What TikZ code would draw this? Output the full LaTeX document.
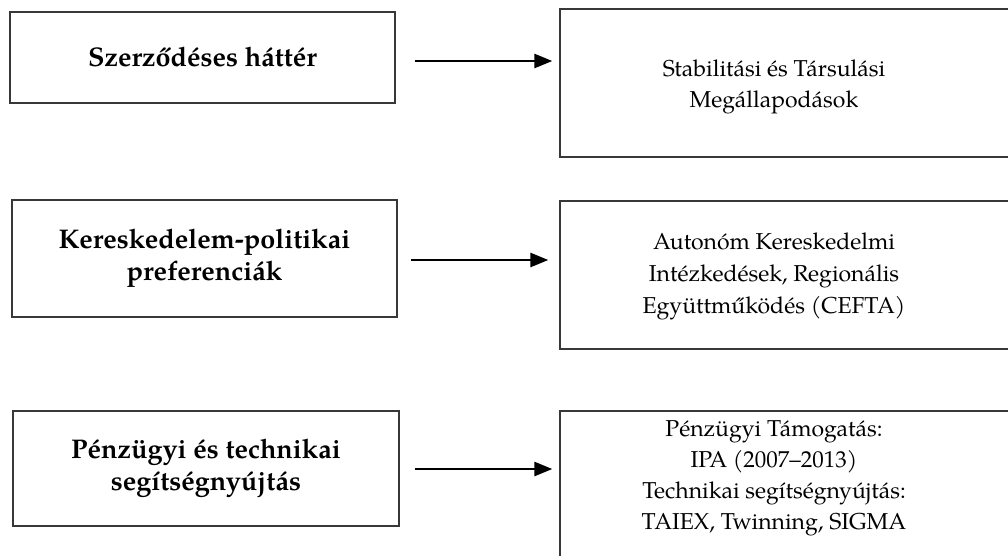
\documentclass[tikz,border=0pt]{standalone}
\usepackage{fontspec}
\setmainfont{TeX Gyre Pagella}
\usetikzlibrary{arrows.meta}
\begin{document}
\begin{tikzpicture}[x=1pt,y=-1pt,
  box/.style={draw=black!78, line width=1.3pt, rectangle, inner sep=0pt},
  lefttext/.style={font=\fontsize{27}{32}\selectfont\bfseries, align=center},
  righttext/.style={font=\fontsize{23}{31}\selectfont, align=center},
  arr/.style={line width=2.6pt, -{Triangle[length=18pt,width=14pt]}}]
\useasboundingbox (0,0) rectangle (1008,555);
\clip (0,0) rectangle (1008,555);

% left column: topics
\node[box, lefttext, minimum width=385pt, minimum height=91pt] (l1) at (202.5,57.5) {Szerződéses háttér};
\node[box, lefttext, minimum width=385pt, minimum height=117pt] (l2) at (204.5,258.5) {Kereskedelem-politikai\\preferenciák};
\node[box, lefttext, minimum width=386pt, minimum height=115pt] (l3) at (206,468.5) {Pénzügyi és technikai\\segítségnyújtás};

% right column: instruments (boxes run past the page edge)
\node[box, minimum width=470pt, minimum height=148pt] (r1) at (795,83) {};
\node[box, minimum width=470pt, minimum height=148pt] (r2) at (795,275) {};
\node[box, minimum width=470pt, minimum height=170pt] (r3) at (795,496) {};

\node[righttext] (t1) at (774,86.5) {Stabilitási és Társulási\\Megállapodások};
\node[righttext, font=\fontsize{23}{32}\selectfont] (t2) at (774,276) {Autonóm Kereskedelmi\\Intézkedések, Regionális\\Együttműködés (CEFTA)};
\node[righttext] (t3) at (774,478.5) {Pénzügyi Támogatás:\\IPA (2007--2013)\\Technikai segítségnyújtás:\\TAIEX, Twinning, SIGMA};

% connectors
\draw[arr, shorten <=19pt, shorten >=7pt] ([yshift=-3.5pt]l1.east) -- ([yshift=-3.5pt]l1.east -| r1.west);
\draw[arr, shorten <=13pt, shorten >=11pt] ([yshift=-1.5pt]l2.east) -- ([yshift=-1.5pt]l2.east -| r2.west);
\draw[arr, shorten <=15pt, shorten >=7pt] ([yshift=-0.5pt]l3.east) -- ([yshift=-0.5pt]l3.east -| r3.west);
\end{tikzpicture}
\end{document}
